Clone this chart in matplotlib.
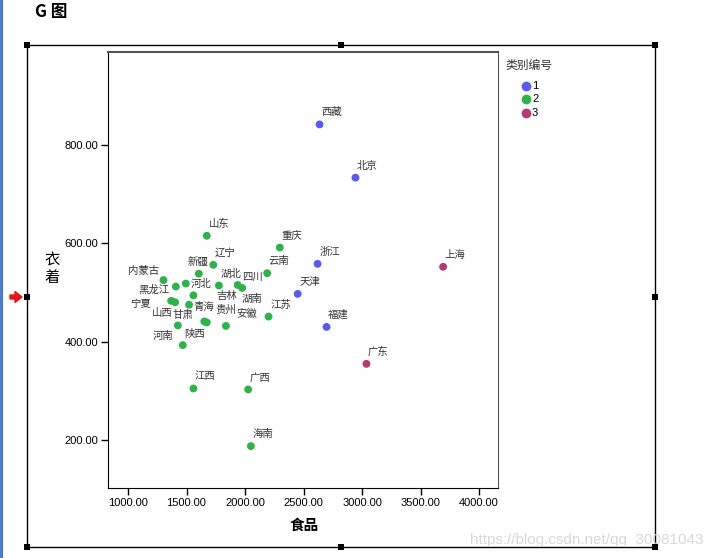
import matplotlib
matplotlib.use("Agg")
import matplotlib.pyplot as plt
from matplotlib.patches import Rectangle, FancyArrow
from matplotlib.lines import Line2D

plt.rcParams['font.family'] = ['Noto Sans CJK SC', 'DejaVu Sans']

# province data: food spending (x), clothing spending (y), cluster id
provinces = ['西藏', '北京', '浙江', '天津', '福建', '上海', '广东',
             '山东', '重庆', '辽宁', '新疆', '云南', '内蒙古', '黑龙江', '河北',
             '湖北', '四川', '湖南', '吉林', '宁夏', '山西', '青海', '江苏',
             '甘肃', '贵州', '安徽', '河南', '陕西', '江西', '广西', '海南']
food = [2637, 2944, 2620, 2450, 2697, 3693, 3038,
        1673, 2297, 1729, 1605, 2189, 1303, 1409, 1494,
        1777, 1937, 1976, 1559, 1369, 1403, 1522, 2201,
        1652, 1673, 1837, 1426, 1468, 1559, 2027, 2050]
clothing = [841, 733, 558, 497, 430, 552, 355,
            615, 591, 556, 538, 539, 525, 512, 518,
            514, 515, 509, 494, 483, 480, 475, 451,
            441, 439, 432, 433, 393, 305, 303, 188]
cluster = [1, 1, 1, 1, 1, 3, 3,
           2, 2, 2, 2, 2, 2, 2, 2,
           2, 2, 2, 2, 2, 2, 2, 2,
           2, 2, 2, 2, 2, 2, 2, 2]

x_ticks = [1000, 1500, 2000, 2500, 3000, 3500, 4000]
y_ticks = [200, 400, 600, 800]
cluster_ids = [1, 2, 3]

colors = {1: '#5a5af2', 2: '#2eb34b', 3: '#b53a70'}

# label offsets in pixels (default is up-right of the point)
label_offset = {
    '新疆': (-1, 11), '内蒙古': (-20, 9), '黑龙江': (-22, -3), '河北': (15, 0),
    '四川': (15, 8), '湖南': (10, -11), '吉林': (33, -1), '宁夏': (-31, -3),
    '山西': (-13, -11), '青海': (15, -2), '甘肃': (-21, 7), '贵州': (19, 13),
    '安徽': (21, 12), '河南': (-15, -11), '陕西': (12, 11),
}

W, H = 723, 558
fig = plt.figure(figsize=(W / 100, H / 100), dpi=100)


def fx(px):
    return px / W


def fy(py):
    return 1 - py / H


# title
fig.text(fx(35), fy(12), 'G 图', fontsize=12, fontweight='bold', va='center', ha='left')

# window border on the far left
fig.add_artist(Line2D([fx(1), fx(1)], [0, 1], color='#4a7bd0', lw=3))

# outer selection frame with handles
fig.add_artist(Rectangle((fx(27), fy(547)), fx(655) - fx(27), fy(45) - fy(547),
                         fill=False, edgecolor='black', lw=1))
for hx in [27, 341, 655]:
    for hy in [45, 297, 547]:
        if hx == 341 and hy == 297:
            continue
        fig.add_artist(Rectangle((fx(hx - 3), fy(hy + 3)), 6 / W, 6 / H,
                                 facecolor='black', edgecolor='none'))
fig.add_artist(FancyArrow(fx(10), fy(297), fx(12), 0, width=4 / H,
                          head_width=11 / H, head_length=7 / W,
                          length_includes_head=True, color='#e8141c'))

ax = fig.add_axes([fx(108), fy(488), fx(498) - fx(108), fy(52) - fy(488)])
for c in cluster_ids:
    xs = [f for f, k in zip(food, cluster) if k == c]
    ys = [v for v, k in zip(clothing, cluster) if k == c]
    ax.scatter(xs, ys, s=32, color=colors[c], edgecolors='none', zorder=3)

for name, x, y in zip(provinces, food, clothing):
    dx, dy = label_offset.get(name, (12, 12))
    ax.annotate(name, (x, y), xytext=(dx, dy), textcoords='offset pixels',
                ha='center', va='center', fontsize=7.5, color='#333333')

ax.set_xlim(829, 4162)
ax.set_ylim(103, 988)
ax.set_xticks(x_ticks)
ax.set_yticks(y_ticks)
ax.set_xticklabels([f'{v:.2f}' for v in x_ticks], family='Liberation Sans', fontsize=8)
ax.set_yticklabels([f'{v:.2f}' for v in y_ticks], family='Liberation Sans', fontsize=8)
ax.tick_params(length=5, width=1, colors='black', pad=2)
for side in ['top', 'right']:
    ax.spines[side].set_color('#555555')
ax.spines['top'].set_linewidth(1.5)

fig.text(fx(304), fy(525), '食品', fontsize=10.5, fontweight='bold', ha='center', va='center')
fig.text(fx(52), fy(269), '衣\n着', fontsize=11, ha='center', va='center',
         linespacing=1.0)

# legend
fig.text(fx(506), fy(65), '类别编号', fontsize=8.5, color='#333333', ha='left', va='center')
for i, c in enumerate(cluster_ids):
    yy = 86 + i * 13.3
    fig.add_artist(Line2D([fx(526)], [fy(yy)], marker='o', markersize=7,
                          color=colors[c], markeredgecolor='none', linestyle='none'))
    fig.text(fx(532), fy(yy), str(c), fontsize=8, family='Liberation Sans',
             ha='left', va='center')

# watermark
fig.text(fx(470), fy(540), 'https://blog.csdn.net/qq_30081043', fontsize=11,
         color='#d8d8d8', ha='left', va='center', family='Liberation Sans')

fig.savefig('out.png', dpi=100)
